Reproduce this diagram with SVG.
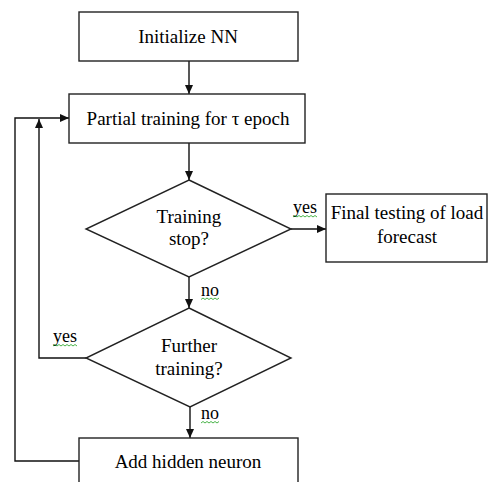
<svg xmlns="http://www.w3.org/2000/svg" width="489" height="482" viewBox="0 0 489 482">
<style>
.box{fill:#fff;stroke:#222;stroke-width:1.4}
.t{font-family:"Liberation Serif","Times New Roman",serif;font-size:19px;fill:#000;text-anchor:middle}
.l{font-family:"Liberation Serif","Times New Roman",serif;font-size:18px;fill:#000}
.c{fill:none;stroke:#111;stroke-width:1.4}
.sq{fill:none;stroke:#3a3;stroke-width:0.9}
</style>
<defs>
<marker id="a" markerWidth="10" markerHeight="8" refX="9" refY="4" orient="auto" markerUnits="userSpaceOnUse">
<path d="M0,0 L9,4 L0,8 Z" fill="#111"/>
</marker>
</defs>
<rect width="489" height="482" fill="#fff"/>
<g id="connectors">
<line class="c" x1="189" y1="61" x2="189" y2="94" marker-end="url(#a)"/>
<line class="c" x1="189" y1="143" x2="189" y2="180" marker-end="url(#a)"/>
<line class="c" x1="291" y1="229" x2="326" y2="229" marker-end="url(#a)"/>
<line class="c" x1="189" y1="277" x2="189" y2="308" marker-end="url(#a)"/>
<line class="c" x1="190" y1="407" x2="190" y2="438" marker-end="url(#a)"/>
<polyline class="c" points="86,358 39,358 39,119" marker-end="url(#a)"/>
<polyline class="c" points="79,461 15,461 15,118 69,118" marker-end="url(#a)"/>
<text class="l" x="293" y="213">yes</text>
<path class="sq" d="M293,217 l2,-1.5 l2,1.5 l2,-1.5 l2,1.5 l2,-1.5 l2,1.5 l2,-1.5 l2,1.5 l2,-1.5 l2,1.5 l2,-1.5 l2,1.5"/>
<text class="l" x="201" y="296">no</text>
<path class="sq" d="M201,299.5 l2,-1.5 l2,1.5 l2,-1.5 l2,1.5 l2,-1.5 l2,1.5 l2,-1.5 l2,1.5 l2,-1.5"/>
<text class="l" x="53" y="342">yes</text>
<path class="sq" d="M53,346 l2,-1.5 l2,1.5 l2,-1.5 l2,1.5 l2,-1.5 l2,1.5 l2,-1.5 l2,1.5 l2,-1.5 l2,1.5 l2,-1.5 l2,1.5"/>
<text class="l" x="201" y="419">no</text>
<path class="sq" d="M201,423 l2,-1.5 l2,1.5 l2,-1.5 l2,1.5 l2,-1.5 l2,1.5 l2,-1.5 l2,1.5 l2,-1.5"/>
</g>
<g id="init">
<rect class="box" x="79" y="12" width="219" height="49"/>
<text class="t" x="188" y="43">Initialize NN</text>
</g>
<g id="partial">
<rect class="box" x="69" y="94" width="236" height="49"/>
<text class="t" x="188" y="125">Partial training for τ epoch</text>
</g>
<g id="stop">
<polygon class="box" points="189,180 291,229 189,277 86,229"/>
<text class="t" x="189" y="223">Training</text>
<text class="t" x="189" y="245">stop?</text>
</g>
<g id="final">
<rect class="box" x="326" y="194" width="161" height="68"/>
<text class="t" x="407" y="219">Final testing of load</text>
<text class="t" x="407" y="243">forecast</text>
</g>
<g id="further">
<polygon class="box" points="189,308 291,358 190,407 86,358"/>
<text class="t" x="189" y="352">Further</text>
<text class="t" x="189" y="375">training?</text>
</g>
<g id="add">
<rect class="box" x="79" y="438" width="219" height="60"/>
<text class="t" x="188" y="468">Add hidden neuron</text>
</g>
</svg>
